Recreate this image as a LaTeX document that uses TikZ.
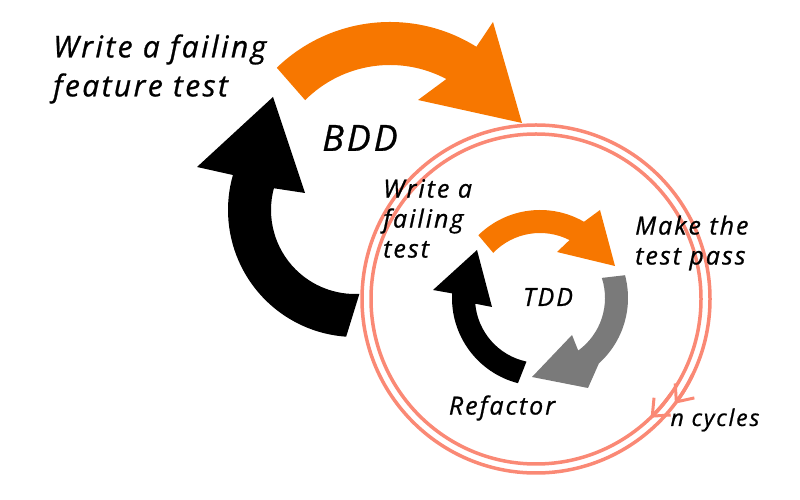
\documentclass[tikz,border=0pt]{standalone}
\usepackage{fontspec}
\setmainfont{Open Sans}[LetterSpace=8, ItalicFeatures={FakeBold=0.8}]
\usetikzlibrary{arrows.meta,calc}
\definecolor{bddorange}{RGB}{247,119,0}
\definecolor{tddgray}{RGB}{122,122,122}
\definecolor{ringred}{RGB}{250,137,117}
\tikzset{txt/.style={inner sep=0pt, align=left},
  bigtxt/.style={txt, font=\fontsize{30}{39}\selectfont\itshape},
  smalltxt/.style={txt, font=\fontsize{25}{30}\selectfont\itshape},
  ringline/.style={draw=ringred, line width=3.5pt},
  ringtip/.style={-{Straight Barb[length=14pt, width=24pt, line width=3pt]}}}
\begin{document}
\begin{tikzpicture}[x=1pt, y=1pt, >=Stealth]
  \useasboundingbox (0,0) rectangle (800,500);
  \coordinate (bddo) at (390,315);
  \coordinate (bddk) at (355,290);
  \coordinate (tdd) at (540,202);
  \coordinate (ringc) at (536,201);
  % BDD cycle
  \fill[bddorange] ($(bddo)+(134:163)$) arc[start angle=134, end angle=58, radius=163]
    -- (493,478) -- (522,377) -- (418,400) -- ($(bddo)+(62:120)$)
    arc[start angle=62, end angle=135, radius=120] -- cycle;
  \fill[black] ($(bddk)+(266:127)$) arc[start angle=266, end angle=164, radius=127]
    -- (197,333) -- (273,403) -- (305,307) -- ($(bddk)+(165:84)$)
    arc[start angle=165, end angle=273, radius=84] -- cycle;
  % TDD cycle
  \fill[bddorange] ($(tdd)+(134.5:88)$) arc[start angle=134.5, end angle=60, radius=88]
    -- (600,290) -- (615,234) -- (557,248) -- ($(tdd)+(63:65)$)
    arc[start angle=63, end angle=136, radius=65] -- cycle;
  \fill[tddgray] ($(tdd)+(15:88)$) arc[start angle=15, end angle=-48, radius=88]
    -- (588,112) -- (532,123) -- (572,165) -- ($(tdd)+(-54:65)$)
    arc[start angle=-54, end angle=18, radius=65] -- cycle;
  \fill[black] ($(tdd)+(255.5:88)$) arc[start angle=255.5, end angle=177, radius=88]
    -- (433,210) -- (477,250) -- (492,193) -- ($(tdd)+(185:65)$)
    arc[start angle=185, end angle=258, radius=65] -- cycle;
  % n cycles ring
  \draw[ringline] (ringc) circle[radius=174];
  \draw[ringline] (ringc) circle[radius=165];
  \draw[ringline, ringtip] ($(ringc)+(-26:174)$)
    arc[start angle=-26, end angle=-37, radius=174];
  \draw[ringline, ringtip] ($(ringc)+(-35:165)$)
    arc[start angle=-35, end angle=-46, radius=165];
  % Labels
  \node[bigtxt, anchor=west] (feat) at (53,431) {Write a failing\\feature test};
  \node[txt, font=\fontsize{36}{40}\selectfont\itshape] (bdd) at (360,362) {BDD};
  \node[smalltxt, anchor=west] (wft) at (383,281.5) {Write a\\failing\\test};
  \node[smalltxt, anchor=west] (mtp) at (635,257) {Make the\\test pass};
  \node[smalltxt] (tddl) at (548,203) {TDD};
  \node[smalltxt] (refac) at (502,92) {Refactor};
  \node[txt, font=\fontsize{23}{28}\selectfont\itshape] (ncyc) at (715,80) {n cycles};
\end{tikzpicture}
\end{document}
